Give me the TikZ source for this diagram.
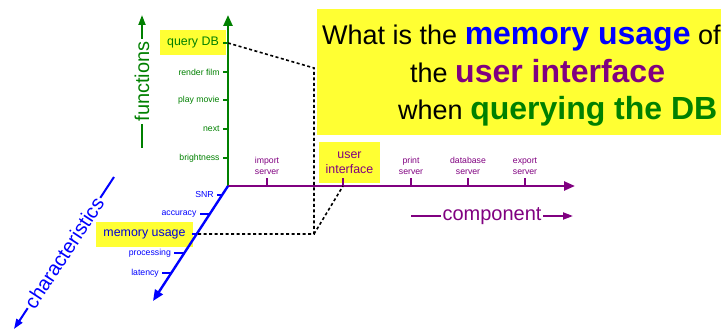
\documentclass[tikz,border=0pt]{standalone}
\usepackage{fontspec}
\setmainfont{Liberation Sans}
\usetikzlibrary{arrows.meta,calc}

\definecolor{fgreen}{RGB}{0,128,0}
\definecolor{cpurple}{RGB}{128,0,128}
\definecolor{chblue}{RGB}{0,0,255}
\definecolor{hiyellow}{RGB}{255,255,51}

\newcommand{\qreg}{\fontsize{27}{27}\selectfont}
\newcommand{\qbold}{\fontsize{32}{32}\selectfont\bfseries}

\tikzset{
  axisline/.style={line width=2.4pt, -{Triangle[length=11pt,width=9pt]}},
  axtick/.style={line width=1.8pt},
  ticklabel/.style={font=\fontsize{8.7}{11.5}\selectfont, inner sep=2.5pt},
  hilite/.style={fill=hiyellow, inner sep=0pt, font=\fontsize{12.4}{15}\selectfont},
  dimline/.style={line width=2pt, -{Triangle[length=10pt,width=7pt]}},
  dimtext/.style={sloped, fill=white, inner xsep=2pt, inner ysep=0pt, font=\fontsize{20}{20}\selectfont},
  probe/.style={line width=1.6pt, dash pattern=on 3pt off 2.5pt},
}

\begin{document}
\begin{tikzpicture}[x=1pt, y=-1pt]
\useasboundingbox (0,0) rectangle (721,331);

% the question
\node [fill=hiyellow, inner sep=0, minimum width=404pt, minimum height=126pt, anchor=north west] (qbox) at (317,9) {};
\node [anchor=base west, inner sep=0, font=\qreg] (q1) at (322,45) {What is the \textcolor{chblue}{\qbold memory usage} of};
\node [anchor=base west, inner sep=0, font=\qreg] (q2) at (410,83) {the \textcolor{cpurple}{\qbold user interface}};
\node [anchor=base west, inner sep=0, font=\qreg] (q3) at (398,120) {when \textcolor{fgreen}{\qbold querying the DB}};

% axes
\coordinate (O) at (228,186);
\coordinate (fTip) at (228,15);
\coordinate (cTip) at (575,186);
\coordinate (chTip) at (153,301);

% highlighted labels
\node [hilite, text=fgreen, minimum width=66pt, minimum height=25pt] (qdbL) at (193,42.5) {query DB};
\node [hilite, text=cpurple, align=center, minimum width=61pt, minimum height=41pt] (uiL) at (349.5,162.5) {user\\interface};
\node [hilite, text=chblue!85!black, minimum width=97pt, minimum height=25pt] (memL) at (144.5,234.5) {memory usage};

\draw [axisline, fgreen] (O) -- (fTip);
\draw [axisline, cpurple] (O) -- (cTip);
\draw [axisline, chblue] (O) -- (chTip);

% functions
\coordinate (qdb) at (228,43);
\coordinate (render) at (228,72);
\coordinate (play) at (228,100);
\coordinate (next) at (228,129);
\coordinate (bright) at (228,158);
\draw [axtick, fgreen] (qdb) -- ++(-5,0);
\draw [axtick, fgreen] (render) -- ++(-5,0) node [ticklabel, left, text=fgreen] (renderL) {render film};
\draw [axtick, fgreen] (play) -- ++(-5,0) node [ticklabel, left, text=fgreen] (playL) {play movie};
\draw [axtick, fgreen] (next) -- ++(-5,0) node [ticklabel, left, text=fgreen] (nextL) {next};
\draw [axtick, fgreen] (bright) -- ++(-5,0) node [ticklabel, left, text=fgreen] (brightL) {brightness};

% components
\coordinate (imp) at (267,186);
\coordinate (ui) at (343,186);
\coordinate (print) at (411,186);
\coordinate (dbs) at (468,186);
\coordinate (exp) at (525,186);
\draw [axtick, cpurple] (imp) -- ++(0,-8) node [ticklabel, above, align=center, text=cpurple] (impL) {import\\server};
\draw [axtick, cpurple] (ui) -- ++(0,-8);
\draw [axtick, cpurple] (print) -- ++(0,-8) node [ticklabel, above, align=center, text=cpurple] (printL) {print\\server};
\draw [axtick, cpurple] (dbs) -- ++(0,-8) node [ticklabel, above, align=center, text=cpurple] (dbsL) {database\\server};
\draw [axtick, cpurple] (exp) -- ++(0,-8) node [ticklabel, above, align=center, text=cpurple] (expL) {export\\server};

% characteristics
\coordinate (snr) at ($(O)!.078!(chTip)$);
\coordinate (acc) at ($(O)!.243!(chTip)$);
\coordinate (mem) at ($(O)!.417!(chTip)$);
\coordinate (proc) at ($(O)!.583!(chTip)$);
\coordinate (lat) at ($(O)!.757!(chTip)$);
\draw [axtick, chblue] (snr) -- ++(-5,0) node [ticklabel, left, text=chblue] (snrL) {SNR};
\draw [axtick, chblue] (acc) -- ++(-10,0) node [ticklabel, left, text=chblue] (accL) {accuracy};
\draw [axtick, chblue] (mem) -- ++(-5,0);
\draw [axtick, chblue] (proc) -- ++(-10,0) node [ticklabel, left, text=chblue] (procL) {processing};
\draw [axtick, chblue] (lat) -- ++(-9,0) node [ticklabel, left, text=chblue] (latL) {latency};

% the probe
\coordinate (bend1) at (314,68);
\coordinate (bend2) at (314,234);
\draw [probe] (qdb) -- (bend1) -- (bend2) -- (mem);
\draw [probe] (bend2) -- (ui);

% dimension names
\coordinate (fBot) at (142,148);
\coordinate (fTop) at (142,15);
\coordinate (cStart) at (411,216);
\coordinate (cEnd) at (573,216);
\coordinate (chStart) at (114,177);
\coordinate (chEnd) at (14,329);
\draw [dimline, fgreen] (fBot) -- node [dimtext, text=fgreen] (fLbl) {functions} (fTop);
\draw [dimline, cpurple] (cStart) -- node [dimtext, text=cpurple] (cLbl) {component} (cEnd);
\draw [dimline, chblue] (chStart) -- node [dimtext, text=chblue] (chLbl) {characteristics} (chEnd);
\end{tikzpicture}
\end{document}
